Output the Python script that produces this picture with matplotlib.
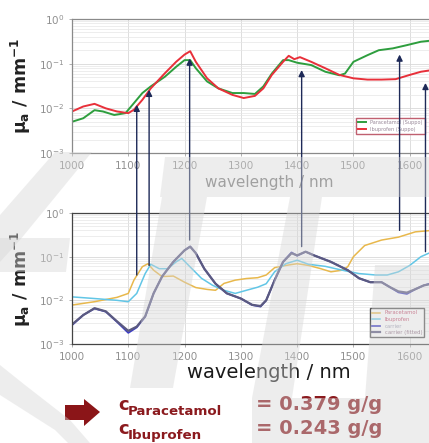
import matplotlib
matplotlib.use("Agg")
import matplotlib.pyplot as plt
from matplotlib.patches import Polygon

# --- top panel: suppository spectra
wl_top_g = [1000, 1020, 1040, 1055, 1075, 1095, 1105, 1125, 1140, 1165, 1185, 1200, 1210, 1220, 1240,
            1260, 1285, 1305, 1325, 1340, 1355, 1375, 1385, 1400, 1425, 1450, 1475, 1485, 1500, 1525,
            1545, 1570, 1595, 1620, 1640]
para_suppo = [0.0050, 0.0060, 0.0091, 0.0085, 0.0071, 0.0078, 0.011, 0.022, 0.031, 0.051, 0.085, 0.12,
              0.12, 0.079, 0.040, 0.028, 0.022, 0.022, 0.021, 0.031, 0.060, 0.12, 0.12, 0.105, 0.093,
              0.066, 0.055, 0.060, 0.11, 0.155, 0.20, 0.22, 0.26, 0.31, 0.33]

wl_top_r = [1000, 1020, 1040, 1060, 1080, 1100, 1110, 1125, 1140, 1165, 1185, 1200, 1210, 1220, 1240,
            1260, 1285, 1305, 1325, 1340, 1355, 1375, 1385, 1395, 1405, 1425, 1450, 1475, 1500, 1525,
            1550, 1575, 1600, 1620, 1640]
ibu_suppo = [0.0085, 0.011, 0.0126, 0.010, 0.0085, 0.0078, 0.0093, 0.0155, 0.028, 0.061, 0.11, 0.16,
             0.19, 0.11, 0.047, 0.028, 0.020, 0.017, 0.019, 0.028, 0.056, 0.11, 0.15, 0.126, 0.14,
             0.11, 0.079, 0.056, 0.047, 0.044, 0.044, 0.045, 0.056, 0.066, 0.072]

# --- bottom panel: pure components + carrier
wl_para = [1000, 1040, 1080, 1100, 1110, 1125, 1135, 1145, 1160, 1180, 1200, 1220, 1240, 1255, 1270,
           1290, 1310, 1330, 1345, 1360, 1380, 1400, 1420, 1440, 1460, 1480, 1490, 1500, 1520, 1550,
           1580, 1610, 1640]
para = [0.0078, 0.0093, 0.0117, 0.0144, 0.029, 0.059, 0.069, 0.049, 0.035, 0.036, 0.026, 0.0196,
        0.0178, 0.017, 0.0244, 0.029, 0.0316, 0.033, 0.038, 0.056, 0.063, 0.069, 0.063, 0.054, 0.045,
        0.049, 0.059, 0.10, 0.18, 0.24, 0.28, 0.37, 0.40]

wl_ibu = [1000, 1040, 1080, 1100, 1115, 1130, 1140, 1155, 1170, 1185, 1195, 1210, 1230, 1250, 1270,
          1290, 1310, 1330, 1345, 1360, 1380, 1400, 1420, 1450, 1480, 1510, 1540, 1560, 1580, 1600,
          1620, 1640]
ibu = [0.012, 0.011, 0.010, 0.0093, 0.0144, 0.041, 0.067, 0.053, 0.053, 0.076, 0.091, 0.058, 0.032,
       0.022, 0.017, 0.0144, 0.017, 0.020, 0.024, 0.045, 0.069, 0.083, 0.067, 0.060, 0.049, 0.041,
       0.038, 0.038, 0.045, 0.063, 0.10, 0.13]

wl_car = [1000, 1020, 1040, 1060, 1080, 1100, 1115, 1130, 1145, 1160, 1180, 1200, 1210, 1220, 1235,
          1255, 1275, 1300, 1320, 1335, 1345, 1360, 1375, 1390, 1400, 1415, 1430, 1460, 1490, 1510,
          1530, 1550, 1565, 1580, 1595, 1610, 1625, 1640]
carrier = [0.0027, 0.0046, 0.0065, 0.0055, 0.0032, 0.0018, 0.0024, 0.0042, 0.0144, 0.035, 0.076, 0.14,
           0.17, 0.12, 0.053, 0.024, 0.0144, 0.011, 0.0078, 0.0072, 0.010, 0.029, 0.076, 0.125, 0.105,
           0.13, 0.107, 0.076, 0.049, 0.032, 0.026, 0.026, 0.020, 0.0152, 0.0140, 0.0180, 0.022, 0.025]
carrier_fit = [0.0028, 0.0046, 0.0066, 0.0056, 0.0033, 0.0020, 0.0025, 0.0043, 0.0145, 0.035, 0.076,
               0.14, 0.17, 0.12, 0.053, 0.024, 0.0145, 0.011, 0.0079, 0.0074, 0.010, 0.029, 0.076,
               0.12, 0.107, 0.13, 0.107, 0.076, 0.049, 0.032, 0.026, 0.026, 0.020, 0.016, 0.0150,
               0.0180, 0.022, 0.024]

# arrows: wavelength, value in top plot, value in bottom plot
arrow_wl = [1115, 1137, 1209, 1408, 1582, 1628]
arrow_top = [0.012, 0.026, 0.13, 0.072, 0.16, 0.037]
arrow_bot = [0.038, 0.063, 0.24, 0.17, 0.40, 0.13]

conc_names = ["Paracetamol", "Ibuprofen"]
conc_vals = ["= 0.379 g/g", "= 0.243 g/g"]

W, H = 429, 443
fig = plt.figure(figsize=(W / 100, H / 100), dpi=100)
fig.patch.set_facecolor("white")


def style(ax, spine_col):
    ax.set_yscale("log")
    ax.set_xlim(1000, 1700)
    ax.set_ylim(1e-3, 1)
    ax.set_xticks(range(1000, 1601, 100))
    ax.set_yticks([1e-3, 1e-2, 1e-1, 1])
    ax.grid(True, which="major", color="#d8d8d8", lw=0.6)
    ax.grid(True, which="minor", axis="y", color="#e6e6e6", lw=0.5)
    ax.tick_params(labelsize=7.5, colors="#909090", length=2, width=0.5)
    ax.tick_params(which="minor", length=0)
    for s in ax.spines.values():
        s.set_color(spine_col)
        s.set_linewidth(0.9)
    ax.set_ylabel("μ$_{\\mathbf{a}}$ / mm$^{\\mathbf{-1}}$", fontsize=12.5, fontweight="bold",
                  color="#222222", labelpad=4)


x0 = 72 / W
wdt = (466 - 72) / W
ax1 = fig.add_axes([x0, 1 - 153 / H, wdt, (153 - 19) / H])
ax2 = fig.add_axes([x0, 1 - 344 / H, wdt, (344 - 213) / H])
style(ax1, "#8a8a8a")
style(ax2, "#444444")

ax1.plot(wl_top_g, para_suppo, color="#2e9e3e", lw=1.4, label="Paracetamol (Suppo)")
ax1.plot(wl_top_r, ibu_suppo, color="#e8303a", lw=1.4, label="Ibuprofen (Suppo)")
ax1.set_xlabel("wavelength / nm", fontsize=11, color="#7a7a7a", labelpad=3)
ax1.legend(loc="lower right", bbox_to_anchor=(427 / W, 1 - 136 / H), bbox_transform=fig.transFigure,
           fontsize=3.6, handlelength=1.6, borderpad=0.4, labelspacing=0.3, fancybox=False,
           edgecolor="#c06070", framealpha=1, labelcolor="#9a8a9a")

ax2.plot(wl_para, para, color="#e8b84c", lw=1.1, label="Paracetamol")
ax2.plot(wl_ibu, ibu, color="#62c6e6", lw=1.1, label="Ibuprofen")
ax2.plot(wl_car, carrier, color="#3d3dc4", lw=1.3, label="carrier")
ax2.plot(wl_car, carrier_fit, color="#5b5a80", lw=1.6, label="carrier (fitted)")
ax2.set_xlabel("wavelength / nm", fontsize=14, color="#1a1a1a", labelpad=1)
leg2 = ax2.legend(loc="lower right", bbox_to_anchor=(427 / W, 1 - 340 / H), bbox_transform=fig.transFigure,
                  fontsize=3.8, handlelength=1.6, borderpad=0.4, labelspacing=0.3, fancybox=False,
                  edgecolor="#555555", framealpha=1)
for t, c in zip(leg2.get_texts(), ["#c04868", "#c04868", "#9a9ab0", "#8a6a80"]):
    t.set_color(c)

for wl, yt, yb in zip(arrow_wl, arrow_top, arrow_bot):
    ax2.annotate("", xy=(wl, yt), xycoords=ax1.transData, xytext=(wl, yb), textcoords="data",
                 arrowprops=dict(arrowstyle="-|>", color="#1e2a58", lw=1.0, mutation_scale=9,
                                 shrinkA=0, shrinkB=0),
                 annotation_clip=False)


def px_poly(pts, **kw):
    return Polygon([(x / W, 1 - y / H) for x, y in pts], closed=True,
                   transform=fig.transFigure, **kw)


# red block arrow
arrow = [(65, 405), (84, 405), (84, 399), (100, 412), (84, 426), (84, 420), (65, 420)]
fig.patches.append(px_poly(arrow, facecolor="#8b1518", edgecolor="none"))

dark_red = "#8b1a1e"
for i, (nm, val) in enumerate(zip(conc_names, conc_vals)):
    yb = 410 + i * 24
    fig.text(118 / W, 1 - yb / H, "c", fontsize=13, fontweight="bold", color=dark_red, va="baseline")
    fig.text(128 / W, 1 - (yb + 5) / H, nm, fontsize=9.6, fontweight="bold", color=dark_red,
             va="baseline")
    fig.text(256 / W, 1 - yb / H, val, fontsize=14, fontweight="bold", color=dark_red, va="baseline")

# faint watermark letters laid over the slide
watermark = [
    [(55, 152), (92, 152), (20, 240), (0, 262), (0, 215)],
    [(0, 238), (70, 238), (66, 272), (0, 272)],
    [(0, 365), (25, 385), (70, 420), (90, 443), (68, 443), (55, 430), (0, 395)],
    [(165, 157), (429, 157), (429, 197), (160, 197)],
    [(162, 197), (207, 197), (173, 388), (130, 388)],
    [(290, 197), (322, 197), (292, 398), (252, 398)],
    [(252, 398), (429, 398), (429, 443), (252, 443)],
    [(375, 265), (429, 265), (429, 398), (365, 398)],
]
for pts in watermark:
    fig.patches.append(px_poly(pts, facecolor="#d6d6d6", edgecolor="none", alpha=0.42, zorder=20))

fig.savefig("out.png", dpi=100)
